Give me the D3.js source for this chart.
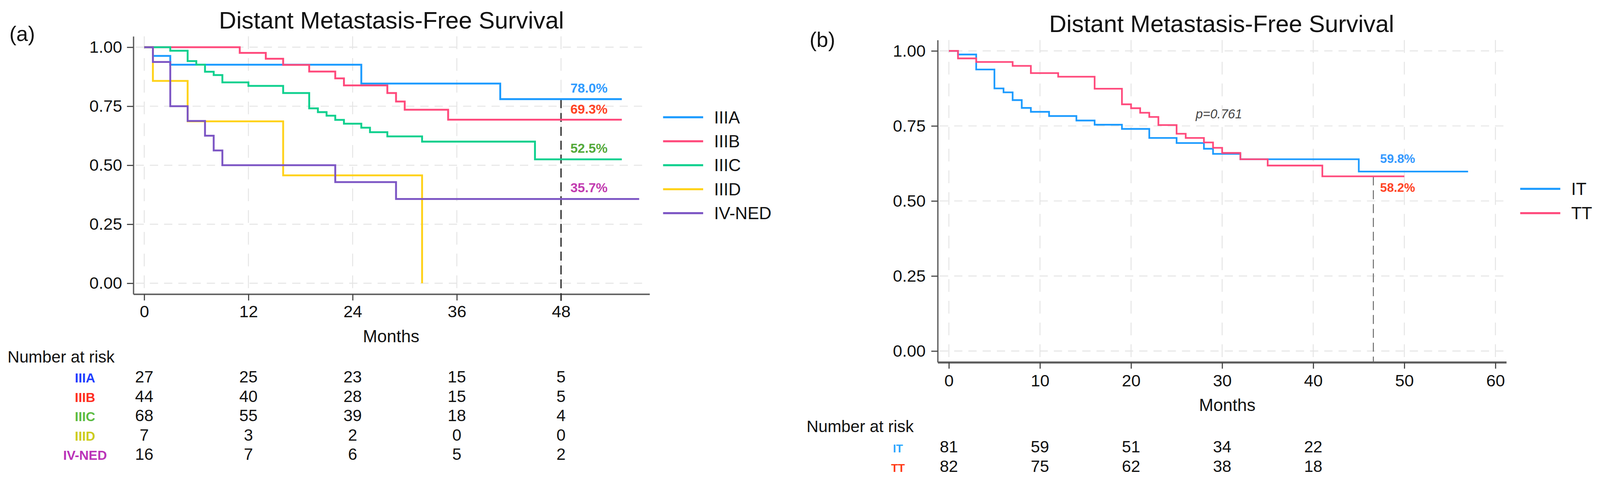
<!DOCTYPE html>
<html>
<head>
<meta charset="utf-8">
<script src="https://cdn.jsdelivr.net/npm/d3@7"></script>
<style>
  html, body { margin: 0; padding: 0; background: #fff; overflow: hidden; }
  svg { display: block; width: 100vw; height: 100vh; font-family: "Liberation Sans", Arial, Helvetica, sans-serif; }
</style>
</head>
<body>
<svg id="chart" viewBox="0 0 4271 1285" preserveAspectRatio="xMinYMin meet"></svg>
<script>
// ---- data: [months, survival] ----
var curveIIIA = [[0,1],[1,0.963],[3,0.926],[25,0.846],[41,0.780],[55,0.780]];
var curveIIIB = [[0,1],[11,0.976],[14,0.951],[16,0.925],[19,0.897],[22,0.868],[23,0.838],
                 [28,0.806],[29,0.770],[30,0.735],[35,0.693],[55,0.693]];
var curveIIIC = [[0,1],[3,0.985],[5,0.941],[6,0.926],[7,0.896],[8,0.882],[9,0.851],[12,0.836],
                 [16,0.806],[19,0.741],[20,0.725],[21,0.710],[22,0.692],[23,0.676],[25,0.659],
                 [26,0.640],[28,0.622],[32,0.600],[45,0.525],[55,0.525]];
var curveIIID = [[0,1],[1,0.857],[5,0.686],[16,0.457],[32,0]];
var curveIVNED = [[0,1],[1,0.9375],[3,0.75],[5,0.6875],[7,0.625],[8,0.5625],[9,0.5],
                  [22,0.4286],[29,0.357],[57,0.357]];

var curveIT = [[0,1],[1,0.988],[3,0.938],[5,0.875],[6,0.862],[7,0.836],[8,0.810],[9,0.797],
               [11,0.783],[14,0.768],[16,0.754],[19,0.740],[22,0.710],[25,0.693],[28,0.674],
               [29,0.657],[32,0.639],[45,0.598],[57,0.598]];
var curveTT = [[0,1],[1,0.975],[3,0.963],[7,0.950],[9,0.926],[12,0.914],[16,0.874],[19,0.822],
               [20,0.809],[21,0.794],[22,0.780],[23,0.753],[25,0.724],[26,0.710],[28,0.695],
               [29,0.677],[30,0.660],[32,0.639],[35,0.618],[41,0.582],[50,0.582]];

var groupsA = ['IIIA', 'IIIB', 'IIIC', 'IIID', 'IV-NED'];
var groupsB = ['IT', 'TT'];

var yTicks = [0, 0.25, 0.5, 0.75, 1];
var xTicksA = [0, 12, 24, 36, 48];
var xTicksB = [0, 10, 20, 30, 40, 50, 60];

var riskTimesA = [0, 12, 24, 36, 48];
var riskIIIA = [27, 25, 23, 15, 5];
var riskIIIB = [44, 40, 28, 15, 5];
var riskIIIC = [68, 55, 39, 18, 4];
var riskIIID = [7, 3, 2, 0, 0];
var riskIVNED = [16, 7, 6, 5, 2];

var riskTimesB = [0, 10, 20, 30, 40];
var riskIT = [81, 59, 51, 34, 22];
var riskTT = [82, 75, 62, 38, 18];

// survival printed at the reference time
var refTimeA = 48;
var pctA = [78.0, 69.3, 52.5, 35.7];
var refTimeB = 46.6;
var pctB = [59.8, 58.2];
var pValueB = 'p=0.761';

// ---- styles ----
var lineColA = ['#1c9bff', '#ff4a7c', '#0fd08e', '#ffd21a', '#7c55c4'];
var tableColA = ['#1f3dff', '#ff2d1f', '#5cbb40', '#cccc1c', '#bb33b8'];
var pctColA = ['#2f9bff', '#ff4324', '#55a93a', '#c23cb0'];
var lineColB = ['#1c9bff', '#ff4a7c'];
var tableColB = ['#2aa6ff', '#ff3a14'];
var pctColB = ['#3399ff', '#ff4324'];

var svg = d3.select('#chart');

function drawPanel(p) {
  var g = svg.append('g');
  var x = d3.scaleLinear().domain(p.xDomain).range(p.xRange);
  var y = d3.scaleLinear().domain(p.yDomain).range(p.yRange);
  var top = p.yRange[1], bottom = p.yRange[0];
  var left = p.xRange[0], right = p.xRange[1];

  // grid
  g.append('g').selectAll('line').data(yTicks).enter().append('line')
    .attr('x1', left + 6).attr('x2', right - 6)
    .attr('y1', function(d) { return y(d); })
    .attr('y2', function(d) { return y(d); })
    .attr('stroke', '#e4e4e4').attr('stroke-width', 2.5)
    .attr('stroke-dasharray', '22,16');
  g.append('g').selectAll('line').data(p.xTicks).enter().append('line')
    .attr('x1', function(d) { return x(d); })
    .attr('x2', function(d) { return x(d); })
    .attr('y1', top).attr('y2', bottom - 4)
    .attr('stroke', '#e4e4e4').attr('stroke-width', 2.5)
    .attr('stroke-dasharray', '34,24');

  // axes
  var yAxis = d3.axisLeft(y).tickValues(yTicks).tickFormat(d3.format('.2f'))
    .tickSize(17).tickSizeOuter(0).tickPadding(p.yPad);
  var ya = g.append('g').attr('transform', 'translate(' + left + ',0)').call(yAxis);
  var xAxis = d3.axisBottom(x).tickValues(p.xTicks).tickFormat(d3.format('d'))
    .tickSize(17).tickSizeOuter(0).tickPadding(p.xPad);
  var xa = g.append('g').attr('transform', 'translate(0,' + bottom + ')').call(xAxis);
  [ya, xa].forEach(function(a) {
    a.attr('font-family', null).attr('font-size', 45);
    a.selectAll('path').attr('stroke', '#5c5c5c').attr('stroke-width', 3.5);
    a.selectAll('line').attr('stroke', '#444').attr('stroke-width', 3);
    a.selectAll('text').attr('fill', '#111');
  });
  xa.select('path').attr('stroke-width', p.xAxisWidth);

  // reference line
  g.append('line')
    .attr('x1', x(p.refTime)).attr('x2', x(p.refTime))
    .attr('y1', y(p.refTop)).attr('y2', bottom + p.refBelow)
    .attr('stroke', p.refColor).attr('stroke-width', p.refWidth)
    .attr('stroke-dasharray', '24,13');

  // curves
  var line = d3.line()
    .x(function(d) { return x(d[0]); })
    .y(function(d) { return y(d[1]); })
    .curve(d3.curveStepAfter);
  p.curves.forEach(function(c, i) {
    g.append('path').datum(c).attr('d', line)
      .attr('fill', 'none').attr('stroke', p.lineCol[i])
      .attr('stroke-width', p.lineWidth);
  });

  // percentages
  p.pct.forEach(function(v, i) {
    g.append('text')
      .attr('x', x(p.refTime) + p.pctDx)
      .attr('y', y(v / 100) + p.pctDy[i])
      .attr('font-size', p.pctSize).attr('font-weight', 'bold')
      .attr('fill', p.pctCol[i])
      .text(v.toFixed(1) + '%');
  });

  // title, panel tag, axis title
  g.append('text').attr('x', p.titleX).attr('y', p.titleY)
    .attr('text-anchor', 'middle').attr('font-size', 64).attr('fill', '#111')
    .text('Distant Metastasis-Free Survival');
  g.append('text').attr('x', p.tagX).attr('y', p.tagY)
    .attr('font-size', 56).attr('fill', '#111').text(p.tag);
  g.append('text').attr('x', p.monthsX).attr('y', p.monthsY)
    .attr('text-anchor', 'middle').attr('font-size', 46).attr('fill', '#111')
    .text('Months');

  // legend
  p.groups.forEach(function(name, i) {
    var ly = p.legY + i * p.legStep;
    g.append('line').attr('x1', p.legX).attr('x2', p.legX + 107)
      .attr('y1', ly).attr('y2', ly)
      .attr('stroke', p.lineCol[i]).attr('stroke-width', 5.5);
    g.append('text').attr('x', p.legX + 136).attr('y', ly + 16)
      .attr('font-size', 46).attr('fill', '#111').text(name);
  });

  // number at risk
  g.append('text').attr('x', p.nrX).attr('y', p.nrY)
    .attr('font-size', 44).attr('fill', '#111').text('Number at risk');
  p.risk.forEach(function(row, i) {
    var ry = p.riskY + i * p.riskStep;
    g.append('text').attr('x', p.riskLabelX).attr('y', ry)
      .attr('text-anchor', 'middle').attr('font-size', p.riskLabelSize)
      .attr('font-weight', 'bold').attr('fill', p.tableCol[i])
      .text(p.groups[i]);
    g.append('g').selectAll('text').data(row).enter().append('text')
      .attr('x', function(d, j) { return x(p.riskTimes[j]); })
      .attr('y', ry)
      .attr('text-anchor', 'middle').attr('font-size', 44).attr('fill', '#111')
      .text(function(d) { return d; });
  });

  return {x: x, y: y};
}

drawPanel({
  xDomain: [-1.25, 58.2], xRange: [356, 1734],
  yDomain: [-0.046, 1.046], yRange: [785, 97],
  xTicks: xTicksA, yPad: 13, xPad: 13, xAxisWidth: 4,
  curves: [curveIIIA, curveIIIB, curveIIIC, curveIIID, curveIVNED],
  lineCol: lineColA, lineWidth: 5,
  refTime: refTimeA, refTop: pctA[0] / 100, refBelow: 18,
  refColor: '#2a2a2a', refWidth: 3.5,
  pct: pctA, pctCol: pctColA, pctDx: 25, pctDy: [-17, -16, -18, -18], pctSize: 35,
  titleX: 1045, titleY: 76, tag: '(a)', tagX: 25, tagY: 110,
  monthsX: 1044, monthsY: 913,
  groups: groupsA, legX: 1770, legY: 313, legStep: 64,
  nrX: 20, nrY: 968,
  risk: [riskIIIA, riskIIIB, riskIIIC, riskIIID, riskIVNED], riskTimes: riskTimesA,
  riskY: 1021, riskStep: 51.6, riskLabelX: 227, riskLabelSize: 35, tableCol: tableColA
});

var pb = drawPanel({
  xDomain: [-1.23, 61.2], xRange: [2503, 4021],
  yDomain: [-0.0375, 1.036], yRange: [967, 107],
  xTicks: xTicksB, yPad: 15, xPad: 15, xAxisWidth: 5.5,
  curves: [curveIT, curveTT],
  lineCol: lineColB, lineWidth: 4.5,
  refTime: refTimeB, refTop: pctB[1] / 100, refBelow: 0,
  refColor: '#666', refWidth: 2.5,
  pct: pctB, pctCol: pctColB, pctDx: 18, pctDy: [-23, 41], pctSize: 33,
  titleX: 3261, titleY: 85, tag: '(b)', tagX: 2161, tagY: 125,
  monthsX: 3276, monthsY: 1097,
  groups: groupsB, legX: 4058, legY: 504, legStep: 65,
  nrX: 2153, nrY: 1153,
  risk: [riskIT, riskTT], riskTimes: riskTimesB,
  riskY: 1207, riskStep: 53, riskLabelX: 2397, riskLabelSize: 30, tableCol: tableColB
});

// log-rank p value
svg.append('text')
  .attr('x', pb.x(27.1)).attr('y', pb.y(0.775))
  .attr('font-size', 34).attr('font-style', 'italic').attr('fill', '#444')
  .text(pValueB);
</script>
</body>
</html>
